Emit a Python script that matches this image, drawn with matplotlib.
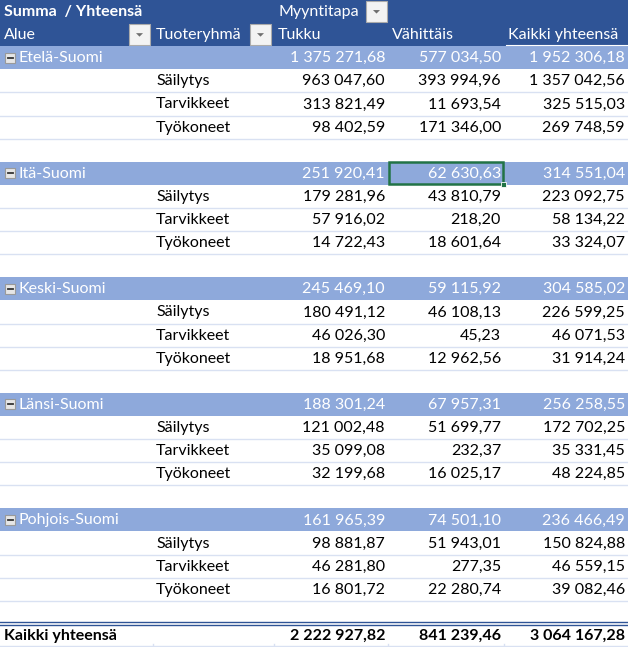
import matplotlib.pyplot as plt
from matplotlib.patches import Rectangle, Polygon

# Pivot table values
regions = ['Etelä-Suomi', 'Itä-Suomi', 'Keski-Suomi', 'Länsi-Suomi', 'Pohjois-Suomi']
products = ['Säilytys', 'Tarvikkeet', 'Työkoneet']

region_tukku = [1375271.68, 251920.41, 245469.10, 188301.24, 161965.39]
region_vahittais = [577034.50, 62630.63, 59115.92, 67957.31, 74501.10]
region_total = [1952306.18, 314551.04, 304585.02, 256258.55, 236466.49]

tukku = [[963047.60, 313821.49, 98402.59],
         [179281.96, 57916.02, 14722.43],
         [180491.12, 46026.30, 18951.68],
         [121002.48, 35099.08, 32199.68],
         [98881.87, 46281.80, 16801.72]]
vahittais = [[393994.96, 11693.54, 171346.00],
             [43810.79, 218.20, 18601.64],
             [46108.13, 45.23, 12962.56],
             [51699.77, 232.37, 16025.17],
             [51943.01, 277.35, 22280.74]]
totals = [[1357042.56, 325515.03, 269748.59],
          [223092.75, 58134.22, 33324.07],
          [226599.25, 46071.53, 31914.24],
          [172702.25, 35331.45, 48224.85],
          [150824.88, 46559.15, 39082.46]]

grand = [2222927.82, 841239.46, 3064167.28]
col_names = ['Tukku', 'Vähittäis', 'Kaikki yhteensä']


def fmt(v):
    return f"{v:,.2f}".replace(",", " ").replace(".", ",")


W, H = 628, 647
n_rows = 28
rh = H / n_rows
col_x = [0, 153, 274, 388, 504, 628]

dark = '#2F5496'
light = '#8EA9DB'
sep = '#D9E1F2'
FONT = 'Lato'
FS = 11.5

fig = plt.figure(figsize=(W / 100, H / 100), dpi=100)
ax = fig.add_axes([0, 0, 1, 1])
ax.set_xlim(0, W)
ax.set_ylim(H, 0)
ax.axis('off')


def row_y(i):
    return i * rh


def txt(x, i, s, ha='left', color='black', bold=False):
    ax.text(x, row_y(i) + rh / 2 + 0.5, s, ha=ha, va='center', color=color,
            fontsize=FS, family=FONT, fontweight='bold' if bold else 'normal')


def dropdown(x0, i):
    y0 = row_y(i) + 1
    ax.add_patch(Rectangle((x0, y0), 21, rh - 2, facecolor='#F3F3F3',
                           edgecolor='#ABABAB', lw=0.8))
    cx, cy = x0 + 10.5, y0 + (rh - 2) / 2
    ax.add_patch(Polygon([(cx - 3.5, cy - 1.5), (cx + 3.5, cy - 1.5), (cx, cy + 2)],
                         closed=True, facecolor='#6E6E6E', edgecolor='none'))


# header rows
ax.add_patch(Rectangle((0, 0), W, 2 * rh, facecolor=dark, edgecolor='none'))
txt(4, 0, 'Summa  / Yhteensä', color='white', bold=True)
txt(278, 0, 'Myyntitapa', color='white')
dropdown(366, 0)
txt(4, 1, 'Alue', color='white')
dropdown(129, 1)
txt(156, 1, 'Tuoteryhmä', color='white')
dropdown(250, 1)
for k, name in enumerate(col_names):
    txt(col_x[k + 2] + 4, 1, name, color='white')
ax.plot([506, W], [2 * rh - 1, 2 * rh - 1], color='white', lw=0.8)

# region blocks
for g, reg in enumerate(regions):
    r0 = 2 + g * 5
    ax.add_patch(Rectangle((0, row_y(r0)), W, rh, facecolor=light, edgecolor='none'))
    # collapse box
    by = row_y(r0) + rh / 2
    ax.add_patch(Rectangle((5, by - 5), 10, 10, facecolor='#E6E6E6',
                           edgecolor='#9A9A9A', lw=0.8))
    ax.plot([7.5, 12.5], [by, by], color='#333333', lw=1.3)
    txt(19, r0, reg, color='white')
    vals = [region_tukku[g], region_vahittais[g], region_total[g]]
    for k, v in enumerate(vals):
        txt(col_x[k + 3] - 3, r0, fmt(v), ha='right', color='white')
    for p, prod in enumerate(products):
        r = r0 + 1 + p
        txt(156, r, prod)
        for k, v in enumerate([tukku[g][p], vahittais[g][p], totals[g][p]]):
            txt(col_x[k + 3] - 3, r, fmt(v), ha='right')
        yb = row_y(r + 1)
        ax.plot([0, W], [yb, yb], color=sep, lw=1.0)

# selected cell
sy = row_y(7)
ax.add_patch(Rectangle((col_x[3] + 1, sy + 0.5), col_x[4] - col_x[3] - 2, rh - 1,
                       facecolor='none', edgecolor='#217346', lw=1.8))
ax.add_patch(Rectangle((col_x[4] - 3, sy + rh - 3), 5, 5, facecolor='#217346',
                       edgecolor='white', lw=0.6))

# grand total
gr = 27
yt = row_y(gr)
ax.plot([0, W], [yt - 1.5, yt - 1.5], color=dark, lw=1.0)
ax.plot([0, W], [yt + 1, yt + 1], color=dark, lw=1.0)
txt(4, gr, 'Kaikki yhteensä', bold=True)
for k, v in enumerate(grand):
    txt(col_x[k + 3] - 3, gr, fmt(v), ha='right', bold=True)
ax.plot([0, W], [H - 1, H - 1], color=sep, lw=1.0)
for x in col_x[1:5]:
    ax.plot([x, x], [H - 3, H], color=sep, lw=1.0)

fig.savefig('out.png', dpi=100)
